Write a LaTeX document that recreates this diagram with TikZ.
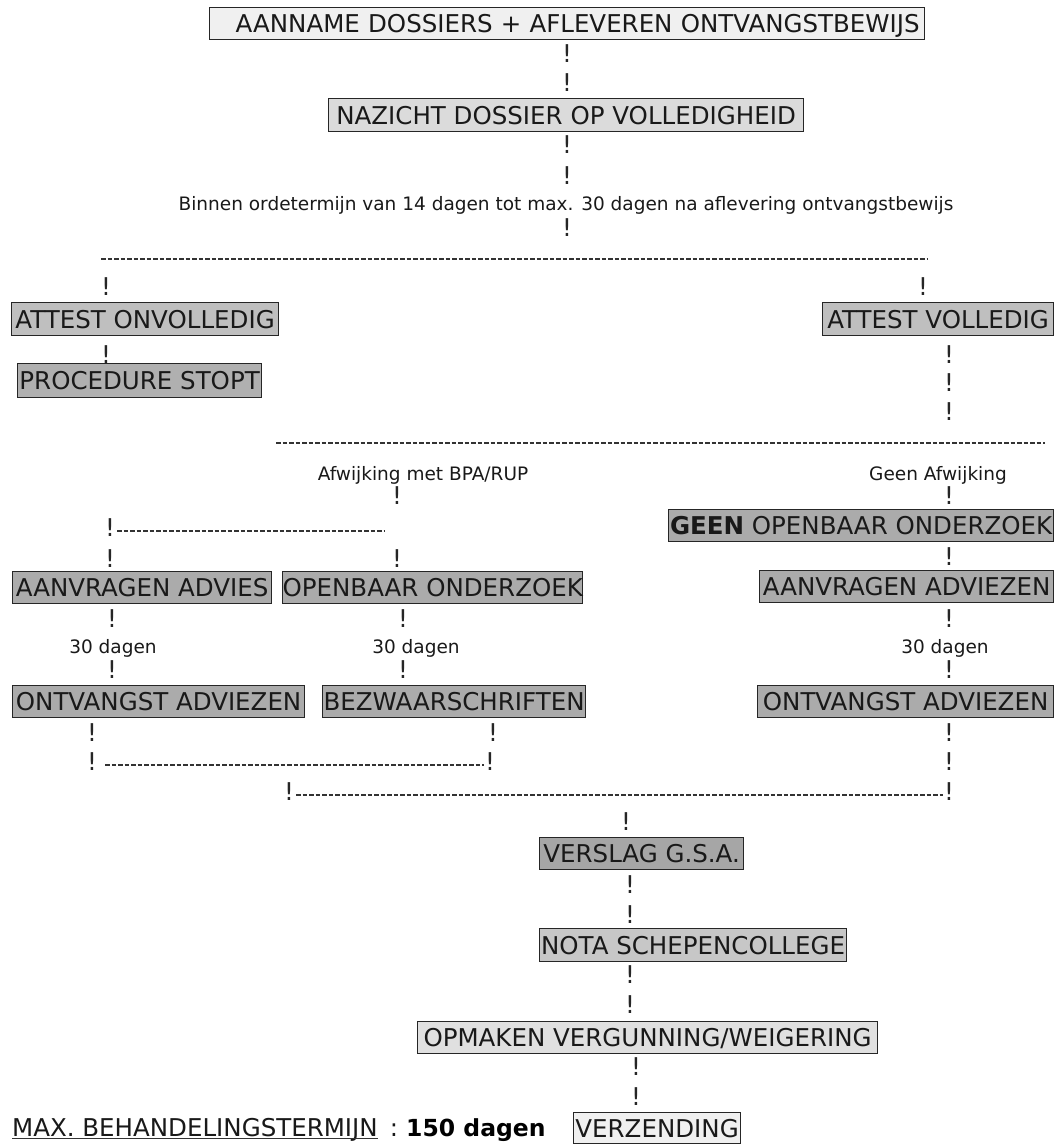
\documentclass[tikz,border=0pt]{standalone}
\usepackage{fontspec}
\setmainfont{DejaVu Sans}
\newcommand\bxf{\fontsize{24.5}{28}\selectfont}
\newcommand\smf{\fontsize{18.5}{22}\selectfont}
\newcommand\bdf{\fontsize{23.5}{28}\selectfont\bfseries}
\begin{document}
\begin{tikzpicture}[x=1pt,y=-1pt,
  box/.style={draw=black!85, line width=1.2pt, inner sep=0pt, anchor=north west, font=\bxf, text=black!90, text depth=0pt},
  ex/.style={font=\bxf, inner sep=0pt, text=black!85},
  lbl/.style={font=\smf, inner sep=0pt, text=black!90, anchor=base},
  dl/.style={draw=black!80, line width=1.4pt, dash pattern=on 4.5pt off 2pt}]
\useasboundingbox[fill=white] (0,0) rectangle (1055,1144);

% boxes
\node[box, fill=black!6, minimum width=715, minimum height=32, text width=705, align=right] (b1) at (209,7) {AANNAME DOSSIERS + AFLEVEREN ONTVANGSTBEWIJS};
\node[box, fill=black!14, minimum width=475, minimum height=33] (b2) at (328,98) {NAZICHT DOSSIER OP VOLLEDIGHEID};
\node[box, fill=black!25, minimum width=267, minimum height=33] (bonv) at (11,302) {ATTEST ONVOLLEDIG};
\node[box, fill=black!31, minimum width=244, minimum height=34] (bstop) at (17,363) {PROCEDURE STOPT};
\node[box, fill=black!25, minimum width=231, minimum height=33] (bvol) at (822,302) {ATTEST VOLLEDIG};
\node[box, fill=black!33, minimum width=385, minimum height=32] (bgeen) at (668,509) {{\bfseries GEEN} OPENBAAR ONDERZOEK};
\node[box, fill=black!33, minimum width=259, minimum height=32] (badv) at (12,571) {AANVRAGEN ADVIES};
\node[box, fill=black!33, minimum width=300, minimum height=32] (bopen) at (282,571) {OPENBAAR ONDERZOEK};
\node[box, fill=black!33, minimum width=294, minimum height=32] (badvz) at (759,570) {AANVRAGEN ADVIEZEN};
\node[box, fill=black!33, minimum width=292, minimum height=32] (bontv) at (12,685) {ONTVANGST ADVIEZEN};
\node[box, fill=black!33, minimum width=263, minimum height=32] (bbezw) at (322,685) {BEZWAARSCHRIFTEN};
\node[box, fill=black!33, minimum width=296, minimum height=32] (bontvz) at (757,685) {ONTVANGST ADVIEZEN};
\node[box, fill=black!35, minimum width=204, minimum height=32] (bversl) at (539,837) {VERSLAG G.S.A.};
\node[box, fill=black!22, minimum width=307, minimum height=33] (bnota) at (539,928) {NOTA SCHEPENCOLLEGE};
\node[box, fill=black!12, minimum width=460, minimum height=32] (bopm) at (417,1021) {OPMAKEN VERGUNNING/WEIGERING};
\node[box, fill=black!6, minimum width=167, minimum height=31] (bverz) at (573,1112) {VERZENDING};

% exclamation marks
\node[ex] (e1) at (567,54) {!};
\node[ex] (e2) at (567,83) {!};
\node[ex] (e3) at (567,145) {!};
\node[ex] (e4) at (567,176) {!};
\node[lbl] (binnen) at (566,210) {Binnen ordetermijn van 14 dagen tot max. 30 dagen na aflevering ontvangstbewijs};
\node[ex] (e5) at (567,228) {!};
\coordinate (d1a) at (101,259);
\coordinate (d1b) at (927,259);
\draw[dl] (d1a) -- (d1b);
\node[ex] (e6) at (106,287) {!};
\node[ex] (e7) at (923,287) {!};
\node[ex] (e8) at (106,355) {!};
\node[ex] (e9) at (949,355) {!};
\node[ex] (e10) at (949,383) {!};
\node[ex] (e11) at (949,412) {!};
\coordinate (d2a) at (276,443);
\coordinate (d2b) at (1045,443);
\draw[dl] (d2a) -- (d2b);
\node[lbl] (afw) at (423,480) {Afwijking met BPA/RUP};
\node[lbl] (geen) at (938,480) {Geen Afwijking};
\node[ex] (e12) at (397,496) {!};
\node[ex] (e13) at (949,496) {!};
\node[ex] (e14) at (110,528) {!};
\coordinate (d3b) at (385,531);
\draw[dl] ([xshift=2pt,yshift=-3pt]e14.east) -- (d3b);
\node[ex] (e15) at (110,559) {!};
\node[ex] (e16) at (397,559) {!};
\node[ex] (e17) at (949,557) {!};
\node[ex] (e18) at (112,619) {!};
\node[ex] (e19) at (403,619) {!};
\node[ex] (e20) at (949,619) {!};
\node[lbl] (t1) at (113,653) {30 dagen};
\node[lbl] (t2) at (416,653) {30 dagen};
\node[lbl] (t3) at (945,653) {30 dagen};
\node[ex] (e21) at (112,670) {!};
\node[ex] (e22) at (403,670) {!};
\node[ex] (e23) at (949,670) {!};
\node[ex] (e24) at (92,733) {!};
\node[ex] (e25) at (493,733) {!};
\node[ex] (e26) at (949,733) {!};
\node[ex] (e27) at (92,762) {!};
\node[ex] (e28) at (490,762) {!};
\node[ex] (e29) at (949,762) {!};
\draw[dl] ([xshift=8pt,yshift=-3pt]e27.east) -- ([xshift=-1pt,yshift=-3pt]e28.west);
\node[ex] (e30) at (289,792) {!};
\node[ex] (e31) at (949,792) {!};
\draw[dl] ([xshift=2pt,yshift=-3pt]e30.east) -- ([xshift=-1pt,yshift=-3pt]e31.west);
\node[ex] (e32) at (626,822) {!};
\node[ex] (e33) at (630,885) {!};
\node[ex] (e34) at (630,915) {!};
\node[ex] (e35) at (630,975) {!};
\node[ex] (e36) at (630,1005) {!};
\node[ex] (e37) at (636,1067) {!};
\node[ex] (e38) at (636,1097) {!};

% bottom line
\node[ex, anchor=base west, text=black!90] (maxt) at (12,1136) {MAX. BEHANDELINGSTERMIJN};
\draw[line width=1.1pt, black!80] ([yshift=-2.5pt]maxt.base west) -- ([yshift=-2.5pt]maxt.base east);
\node[ex, anchor=base, text=black!90] (colon) at (394,1136) {:};
\node[inner sep=0pt, anchor=base west, font=\bdf, text=black] (days) at (406,1136) {150 dagen};
\end{tikzpicture}
\end{document}
